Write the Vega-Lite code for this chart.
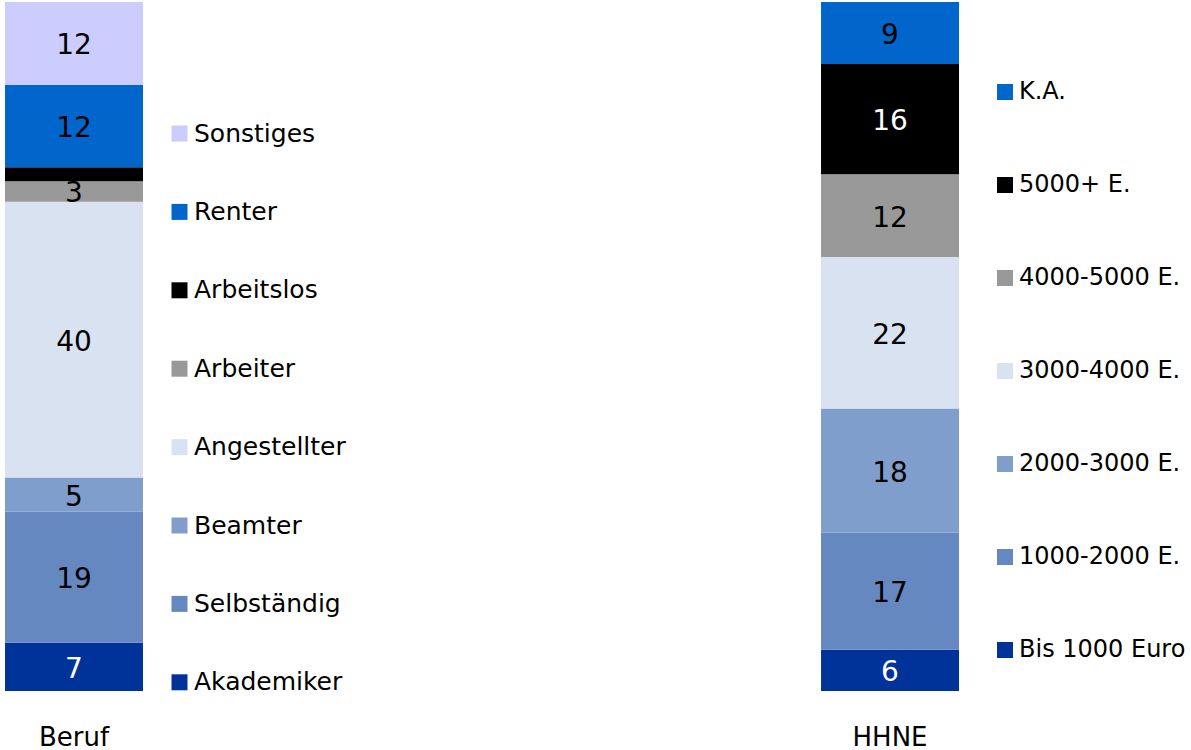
{
  "$schema": "https://vega.github.io/schema/vega-lite/v6.json",
  "width": 1191,
  "height": 689,
  "autosize": {"type": "none"},
  "padding": {"left": 0, "top": 2, "right": 0, "bottom": 59},
  "background": "white",
  "config": {
    "view": {"stroke": null},
    "font": "DejaVu Sans",
    "legend": {"labelFont": "DejaVu Sans", "labelColor": "black"}
  },
  "data": {
    "values": [
      {"group": "Beruf", "cat": "Akademiker", "rank": 1, "value": 7},
      {"group": "Beruf", "cat": "Selbständig", "rank": 2, "value": 19},
      {"group": "Beruf", "cat": "Beamter", "rank": 3, "value": 5},
      {"group": "Beruf", "cat": "Angestellter", "rank": 4, "value": 40},
      {"group": "Beruf", "cat": "Arbeiter", "rank": 5, "value": 3},
      {"group": "Beruf", "cat": "Arbeitslos", "rank": 6, "value": 2},
      {"group": "Beruf", "cat": "Renter", "rank": 7, "value": 12},
      {"group": "Beruf", "cat": "Sonstiges", "rank": 8, "value": 12},
      {"group": "HHNE", "cat": "Bis 1000 Euro", "rank": 1, "value": 6},
      {"group": "HHNE", "cat": "1000-2000 E.", "rank": 2, "value": 17},
      {"group": "HHNE", "cat": "2000-3000 E.", "rank": 3, "value": 18},
      {"group": "HHNE", "cat": "3000-4000 E.", "rank": 4, "value": 22},
      {"group": "HHNE", "cat": "4000-5000 E.", "rank": 5, "value": 12},
      {"group": "HHNE", "cat": "5000+ E.", "rank": 6, "value": 16},
      {"group": "HHNE", "cat": "K.A.", "rank": 7, "value": 9}
    ]
  },
  "encoding": {
    "x": {
      "field": "group",
      "type": "nominal",
      "title": null,
      "scale": {"domain": ["Beruf", "HHNE"], "paddingInner": 0.8309, "paddingOuter": 0.1452, "align": 0.0211},
      "axis": {
        "domain": false,
        "ticks": false,
        "tickSize": 0,
        "labelAngle": 0,
        "labelFontSize": 26,
        "labelFont": "DejaVu Sans",
        "labelColor": "black",
        "labelPadding": 33,
        "grid": false
      }
    },
    "y": {
      "field": "value",
      "type": "quantitative",
      "stack": "zero",
      "scale": {"domain": [0, 100], "nice": false},
      "axis": null
    },
    "order": {"field": "rank", "type": "quantitative", "sort": "ascending"}
  },
  "layer": [
    {
      "transform": [{"filter": "datum.group === 'Beruf'"}],
      "mark": {"type": "bar", "strokeWidth": 0},
      "encoding": {
        "color": {
          "field": "cat",
          "type": "nominal",
          "scale": {
            "domain": ["Sonstiges", "Renter", "Arbeitslos", "Arbeiter", "Angestellter", "Beamter", "Selbständig", "Akademiker"],
            "range": ["#CCCCFF", "#0066CC", "#000000", "#999999", "#D9E2F0", "#809ECC", "#6688C0", "#003399"]
          },
          "legend": {
            "orient": "none",
            "legendX": 167,
            "legendY": 119,
            "title": null,
            "padding": 0,
            "symbolType": "square",
            "symbolSize": 256,
            "symbolStrokeWidth": 0,
            "labelFontSize": 25,
            "labelOffset": 2,
            "labelLimit": 400,
            "rowPadding": 52.4
          }
        }
      }
    },
    {
      "transform": [{"filter": "datum.group === 'HHNE'"}],
      "mark": {"type": "bar", "strokeWidth": 0},
      "encoding": {
        "color": {
          "field": "cat",
          "type": "nominal",
          "scale": {
            "domain": ["K.A.", "5000+ E.", "4000-5000 E.", "3000-4000 E.", "2000-3000 E.", "1000-2000 E.", "Bis 1000 Euro"],
            "range": ["#0066CC", "#000000", "#999999", "#D9E2F0", "#809ECC", "#6688C0", "#003399"]
          },
          "legend": {
            "orient": "none",
            "legendX": 993,
            "legendY": 78,
            "title": null,
            "padding": 0,
            "symbolType": "square",
            "symbolSize": 256,
            "symbolStrokeWidth": 0,
            "labelFontSize": 24,
            "labelOffset": 2,
            "labelLimit": 400,
            "rowPadding": 69
          }
        }
      }
    },
    {
      "mark": {"type": "text", "fontSize": 28, "font": "DejaVu Sans", "baseline": "middle", "align": "center", "dy": 3},
      "encoding": {
        "y": {"field": "value", "type": "quantitative", "stack": "zero", "bandPosition": 0.5},
        "text": {
          "condition": {"test": "datum.cat === 'Arbeitslos'", "value": ""},
          "field": "value",
          "type": "quantitative"
        },
        "color": {
          "condition": {"test": "indexof(['Akademiker', 'Bis 1000 Euro', '5000+ E.'], datum.cat) >= 0", "value": "white"},
          "value": "black"
        }
      }
    }
  ],
  "resolve": {"scale": {"color": "independent"}, "legend": {"color": "independent"}}
}
